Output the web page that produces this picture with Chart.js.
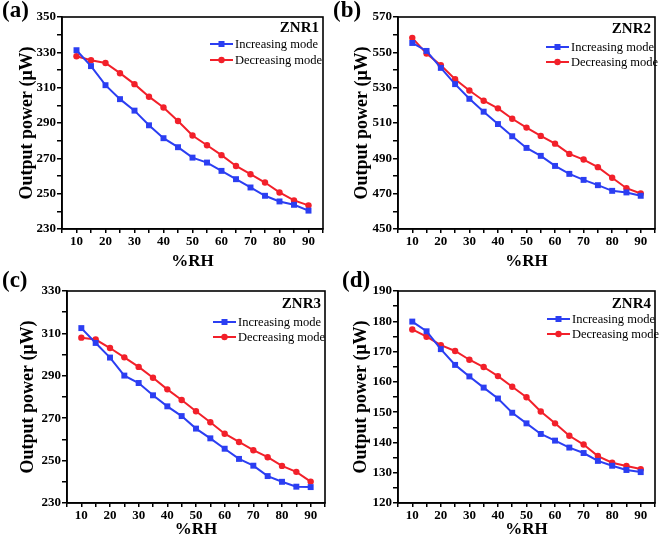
<!DOCTYPE html>
<html>
<head>
<meta charset="utf-8">
<script src="https://cdn.jsdelivr.net/npm/chart.js@4.4.0/dist/chart.umd.min.js"></script>
<style>
  html, body { margin: 0; padding: 0; background: #fff; }
  #wrap { position: relative; width: 661px; height: 540px; overflow: hidden; }
  canvas { position: absolute; }
</style>
</head>
<body>
<div id="wrap">
  <canvas id="ca" width="330" height="270" style="left:0;top:0"></canvas>
  <canvas id="cb" width="331" height="270" style="left:330px;top:0"></canvas>
  <canvas id="cc" width="330" height="270" style="left:0;top:270px"></canvas>
  <canvas id="cd" width="331" height="270" style="left:330px;top:270px"></canvas>
</div>
<script>
// ---------- data ----------
const rh = [10, 15, 20, 25, 30, 35, 40, 45, 50, 55, 60, 65, 70, 75, 80, 85, 90];
const xTickLabels = [10, 20, 30, 40, 50, 60, 70, 80, 90];

const znr1Inc = [331.2, 322.2, 311.4, 303.5, 297.0, 288.7, 281.4, 276.3, 270.4, 267.6, 262.9, 258.2, 253.5, 248.8, 245.6, 243.7, 240.4];
const znr1Dec = [327.8, 325.5, 324.0, 318.2, 312.0, 304.9, 298.8, 291.1, 282.9, 277.4, 271.8, 265.7, 261.0, 256.3, 250.7, 246.2, 243.4];
const yTicks1 = [230, 250, 270, 290, 310, 330, 350];

const znr2Inc = [555.3, 550.8, 541.2, 532.0, 523.7, 516.4, 509.4, 502.5, 495.9, 491.4, 485.7, 481.2, 477.8, 474.8, 471.6, 470.7, 468.8];
const znr2Dec = [558.2, 549.3, 542.7, 534.8, 528.4, 522.6, 518.3, 512.4, 507.4, 502.7, 498.3, 492.5, 489.3, 485.0, 479.0, 473.1, 470.1];
const yTicks2 = [450, 470, 490, 510, 530, 550, 570];

const znr3Inc = [312.5, 305.5, 298.6, 290.1, 286.6, 280.8, 275.6, 271.0, 265.1, 260.5, 255.6, 250.8, 247.6, 242.7, 240.0, 237.7, 237.5];
const znr3Dec = [308.0, 307.1, 303.1, 298.7, 294.2, 289.1, 283.6, 278.6, 273.3, 268.1, 262.7, 258.8, 254.9, 251.6, 247.5, 244.7, 240.1];
const yTicks3 = [230, 250, 270, 290, 310, 330];

const znr4Inc = [179.9, 176.7, 170.8, 165.6, 161.8, 158.1, 154.5, 149.8, 146.3, 142.8, 140.6, 138.3, 136.5, 133.9, 132.3, 130.9, 130.2];
const znr4Dec = [177.3, 174.9, 172.1, 170.2, 167.3, 164.9, 161.9, 158.4, 154.9, 150.2, 146.3, 142.2, 139.3, 135.5, 133.3, 132.2, 131.2];
const yTicks4 = [120, 130, 140, 150, 160, 170, 180, 190];

const seriesNames = ['Increasing mode', 'Decreasing mode'];
const panelNames = ['ZNR1', 'ZNR2', 'ZNR3', 'ZNR4'];
const panelLetters = ['(a)', '(b)', '(c)', '(d)'];

// ---------- styles ----------
const BLUE = '#2b3ef2';
const RED = '#f2202a';
const SERIF = "'Liberation Serif', 'Times New Roman', serif";

const decoPlugin = {
  id: 'deco',
  afterDraw(chart, args, o) {
    const ctx = chart.ctx;
    const ca = chart.chartArea;
    ctx.save();
    // frame
    ctx.strokeStyle = '#000';
    ctx.lineWidth = 1.6;
    ctx.strokeRect(ca.left, ca.top, ca.right - ca.left, ca.bottom - ca.top);
    // panel letter
    ctx.fillStyle = '#000';
    ctx.font = 'bold 23px ' + SERIF;
    ctx.textAlign = 'left';
    ctx.textBaseline = 'top';
    ctx.fillText(o.letter, o.letterX, o.letterY);
    // sample name
    ctx.font = 'bold 15px ' + SERIF;
    ctx.textAlign = 'right';
    ctx.textBaseline = 'middle';
    ctx.fillText(o.name, ca.right - o.nameInset, ca.top + o.nameY);
    // legend
    const lx = ca.right - o.legX;
    chart.data.datasets.forEach((ds, i) => {
      const y = ca.top + o.legY[i];
      ctx.strokeStyle = ds.borderColor;
      ctx.lineWidth = 2;
      ctx.beginPath();
      ctx.moveTo(lx, y);
      ctx.lineTo(lx + 23, y);
      ctx.stroke();
      ctx.fillStyle = ds.borderColor;
      const cx = lx + 11.5;
      if (ds.pointStyle === 'rect') {
        ctx.fillRect(cx - 3, y - 3, 6, 6);
      } else {
        ctx.beginPath();
        ctx.arc(cx, y, 3.2, 0, Math.PI * 2);
        ctx.fill();
      }
      ctx.fillStyle = '#000';
      ctx.font = '12.5px ' + SERIF;
      ctx.textAlign = 'left';
      ctx.textBaseline = 'middle';
      ctx.fillText(ds.label, lx + 25, y + 0.5);
    });
    ctx.restore();
  }
};

function makeChart(id, inc, dec, yMin, yMax, yStep, yLabels, geom, deco) {
  const ctx = document.getElementById(id).getContext('2d');
  return new Chart(ctx, {
    type: 'line',
    data: {
      datasets: [
        {
          label: seriesNames[0],
          data: rh.map((x, i) => ({ x: x, y: inc[i] })),
          borderColor: BLUE, backgroundColor: BLUE,
          borderWidth: 2, pointStyle: 'rect', pointRadius: 4.2,
          pointBorderWidth: 0, tension: 0
        },
        {
          label: seriesNames[1],
          data: rh.map((x, i) => ({ x: x, y: dec[i] })),
          borderColor: RED, backgroundColor: RED,
          borderWidth: 2, pointStyle: 'circle', pointRadius: 3.2,
          pointBorderWidth: 0, tension: 0
        }
      ]
    },
    options: {
      responsive: false,
      animation: false,
      devicePixelRatio: 1,
      layout: { padding: { top: geom.top, right: geom.right, left: 0, bottom: 0 } },
      plugins: {
        legend: { display: false },
        tooltip: { enabled: false },
        deco: deco
      },
      scales: {
        x: {
          type: 'linear', min: 5, max: 95,
          afterFit(s) { s.height = geom.xh; },
          ticks: {
            stepSize: 5, autoSkip: false, maxRotation: 0, padding: 1,
            color: '#000', font: { family: SERIF, size: 13, weight: 'bold' },
            callback: (v) => xTickLabels.includes(v) ? String(v) : ''
          },
          grid: { drawOnChartArea: false, color: '#000', lineWidth: 1.5, tickLength: 4 },
          border: { display: true, color: '#000', width: 1.6 },
          title: {
            display: true, text: '%RH', color: '#000',
            font: { family: SERIF, size: 17, weight: 'bold', lineHeight: 1 },
            padding: { top: 0, bottom: geom.xtp }
          }
        },
        y: {
          type: 'linear', min: yMin, max: yMax,
          afterFit(s) { s.width = geom.yw; },
          ticks: {
            stepSize: yStep, autoSkip: false, padding: 1,
            color: '#000', font: { family: SERIF, size: 13, weight: 'bold' },
            callback: (v) => yLabels.includes(v) ? String(v) : ''
          },
          grid: { drawOnChartArea: false, color: '#000', lineWidth: 1.5, tickLength: 5 },
          border: { display: true, color: '#000', width: 1.6 },
          title: {
            display: true, text: 'Output power (\u03bcW)', color: '#000',
            font: { family: SERIF, size: 18, weight: 'bold', lineHeight: 1 },
            padding: { top: geom.ytp, bottom: 0 }
          }
        }
      }
    },
    plugins: [decoPlugin]
  });
}

makeChart('ca', znr1Inc, znr1Dec, 230, 350, 10, yTicks1,
  { top: 17, right: 7, xh: 41, yw: 62, xtp: 0, ytp: 18 },
  { letter: panelLetters[0], letterX: 2, letterY: 0, name: panelNames[0], nameInset: 4, nameY: 11.5, legX: 113, legY: [27, 43] });

makeChart('cb', znr2Inc, znr2Dec, 450, 570, 10, yTicks2,
  { top: 17, right: 6, xh: 41, yw: 68, xtp: 0, ytp: 23.5 },
  { letter: panelLetters[1], letterX: 3, letterY: 0, name: panelNames[1], nameInset: 4, nameY: 12, legX: 109, legY: [30, 45] });

makeChart('cc', znr3Inc, znr3Dec, 230, 330, 10, yTicks3,
  { top: 21, right: 5, xh: 37, yw: 67, xtp: 2, ytp: 19.5 },
  { letter: panelLetters[2], letterX: 2, letterY: 0, name: panelNames[2], nameInset: 4, nameY: 13, legX: 112, legY: [31, 46] });

makeChart('cd', znr4Inc, znr4Dec, 120, 190, 5, yTicks4,
  { top: 21, right: 6, xh: 37, yw: 68, xtp: 2, ytp: 22.5 },
  { letter: panelLetters[3], letterX: 12, letterY: 0, name: panelNames[3], nameInset: 4, nameY: 13, legX: 108, legY: [28, 43] });
</script>
</body>
</html>
